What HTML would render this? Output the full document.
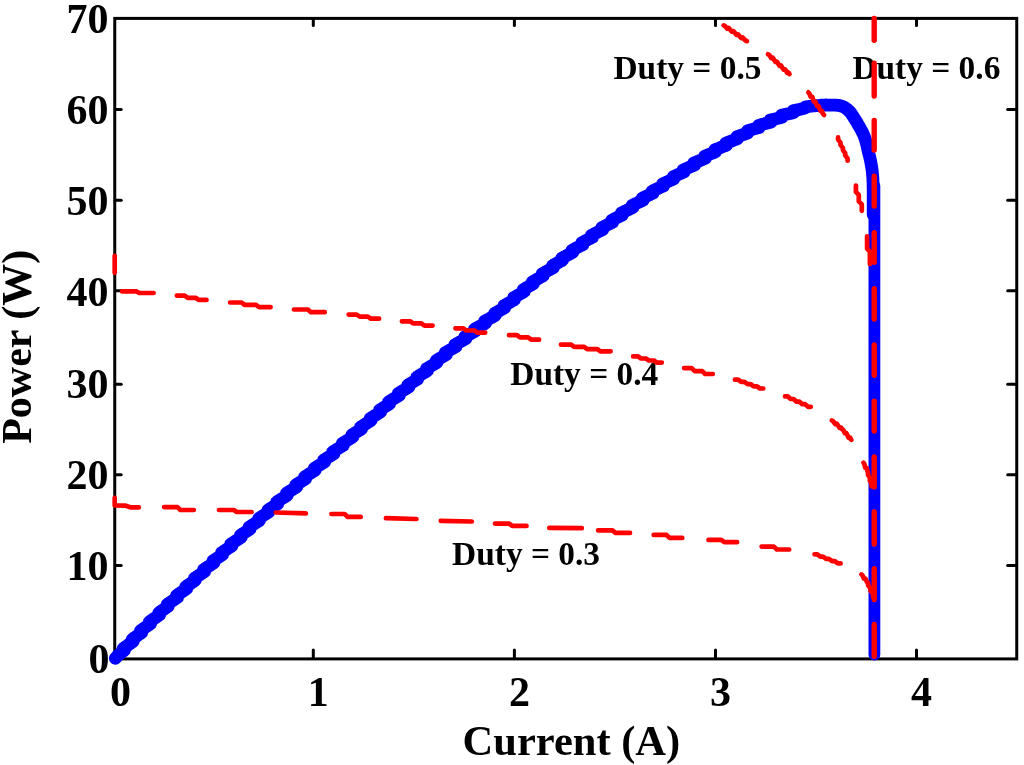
<!DOCTYPE html>
<html lang="en"><head><meta charset="utf-8"><title>Power vs Current for different duty cycles</title>
<style>html,body{margin:0;padding:0;background:#fff;overflow:hidden;}svg{display:block;}text{font-family:'Liberation Serif', serif;font-weight:bold;fill:#000;}.tk{font-size:42px;}.lab{font-size:42.5px;}.ann{font-size:33.4px;}.ax{stroke:#000;stroke-width:3.0;fill:none;}.t{stroke:#000;stroke-width:3;stroke-linecap:round;fill:none;}.r{stroke:#f00;stroke-width:4.7;stroke-linecap:round;stroke-linejoin:round;fill:none;}.b{stroke:#00f;stroke-width:12.8;stroke-linecap:round;stroke-linejoin:round;fill:none;}</style></head><body>
<svg width="1024" height="765" viewBox="0 0 1024 765">
<rect x="0" y="0" width="1024" height="765" fill="#fff"/>
<g class="t">
<line x1="313.3" y1="658.3" x2="313.3" y2="649.9"/>
<line x1="313.3" y1="19.0" x2="313.3" y2="25.5"/>
<line x1="514.4" y1="658.3" x2="514.4" y2="649.9"/>
<line x1="514.4" y1="19.0" x2="514.4" y2="25.5"/>
<line x1="715.5" y1="658.3" x2="715.5" y2="649.9"/>
<line x1="715.5" y1="19.0" x2="715.5" y2="25.5"/>
<line x1="916.5" y1="658.3" x2="916.5" y2="649.9"/>
<line x1="916.5" y1="19.0" x2="916.5" y2="25.5"/>
<line x1="115.3" y1="109.4" x2="121.2" y2="109.4"/>
<line x1="1016.1" y1="109.4" x2="1007.7" y2="109.4"/>
<line x1="115.3" y1="200.2" x2="121.2" y2="200.2"/>
<line x1="1016.1" y1="200.2" x2="1007.7" y2="200.2"/>
<line x1="115.3" y1="290.8" x2="121.2" y2="290.8"/>
<line x1="1016.1" y1="290.8" x2="1007.7" y2="290.8"/>
<line x1="115.3" y1="384.2" x2="121.2" y2="384.2"/>
<line x1="1016.1" y1="384.2" x2="1007.7" y2="384.2"/>
<line x1="115.3" y1="474.7" x2="121.2" y2="474.7"/>
<line x1="1016.1" y1="474.7" x2="1007.7" y2="474.7"/>
<line x1="115.3" y1="565.6" x2="121.2" y2="565.6"/>
<line x1="1016.1" y1="565.6" x2="1007.7" y2="565.6"/>
</g>
<rect class="ax" x="114.75" y="18.40" width="902.00" height="640.50"/>
<g class="tk">
<text x="108.4" y="32.6" text-anchor="end">70</text>
<text x="108.4" y="123.7" text-anchor="end">60</text>
<text x="108.4" y="214.8" text-anchor="end">50</text>
<text x="108.4" y="306.0" text-anchor="end">40</text>
<text x="108.4" y="397.5" text-anchor="end">30</text>
<text x="108.4" y="488.7" text-anchor="end">20</text>
<text x="108.4" y="580.3" text-anchor="end">10</text>
<text x="109.6" y="673.3" text-anchor="end">0</text>
<text x="120.4" y="706.3" text-anchor="middle">0</text>
<text x="318.3" y="706.3" text-anchor="middle">1</text>
<text x="519.4" y="706.3" text-anchor="middle">2</text>
<text x="720.5" y="706.3" text-anchor="middle">3</text>
<text x="921.5" y="706.3" text-anchor="middle">4</text>
</g>
<text class="lab" x="571.4" y="754.6" text-anchor="middle">Current (A)</text>
<text class="lab" style="font-size:42px" transform="translate(31.4,346.8) rotate(-90)" text-anchor="middle">Power (W)</text>
<g class="ann">
<text x="613.5" y="79.2">Duty = 0.5</text>
<text x="852.4" y="79.2">Duty = 0.6</text>
<text x="510.3" y="385">Duty = 0.4</text>
<text x="452.1" y="564.5">Duty = 0.3</text>
</g>
<polyline class="b" points="115.3,658.4 115.8,657.8 116.3,657.2 116.8,656.7 117.3,656.1 117.8,655.6 118.3,655.1 118.9,654.6 119.5,654.1 120.0,653.6 120.6,653.1 121.2,652.6 121.8,652.2 122.4,651.7 123.1,651.3 123.7,650.9 124.4,650.5 123.4,648.5 124.0,648.0 124.6,647.6 125.2,647.1 125.8,646.7 126.5,646.2 127.1,645.8 127.7,645.3 128.3,644.9 128.9,644.4 129.5,644.0 130.1,643.5 130.8,643.1 131.4,642.7 132.0,642.2 132.6,641.8 133.2,641.3 132.3,639.3 132.9,638.9 133.5,638.4 134.1,638.0 134.7,637.5 135.4,637.1 136.0,636.7 136.6,636.2 137.2,635.8 137.8,635.3 138.4,634.9 139.1,634.4 139.7,634.0 140.3,633.6 140.9,633.1 141.5,632.7 140.6,630.7 141.2,630.2 141.8,629.8 142.5,629.4 143.1,628.9 143.7,628.5 144.3,628.0 144.9,627.6 145.6,627.2 146.2,626.7 146.8,626.3 147.4,625.8 148.1,625.4 148.7,625.0 149.3,624.5 149.9,624.1 150.6,623.7 149.6,621.7 150.3,621.2 150.9,620.8 151.5,620.4 152.1,619.9 152.8,619.5 153.4,619.1 154.0,618.6 154.7,618.2 155.3,617.8 155.9,617.3 156.5,616.9 157.2,616.5 157.8,616.1 158.4,615.6 159.0,615.2 159.7,614.8 158.8,612.8 159.4,612.3 160.0,611.9 160.7,611.5 161.3,611.0 161.9,610.6 162.5,610.2 163.2,609.8 163.8,609.3 164.4,608.9 165.1,608.5 165.7,608.0 166.3,607.6 166.9,607.2 167.6,606.8 168.2,606.3 167.3,604.3 167.9,603.9 168.6,603.5 169.2,603.0 169.8,602.6 170.5,602.2 171.1,601.8 171.7,601.3 172.4,600.9 173.0,600.5 173.6,600.1 174.2,599.6 174.9,599.2 175.5,598.8 176.1,598.4 176.8,597.9 177.4,597.5 176.5,595.5 177.1,595.1 177.8,594.6 178.4,594.2 179.0,593.8 179.7,593.4 180.3,593.0 180.9,592.5 181.6,592.1 182.2,591.7 182.8,591.3 183.5,590.8 184.1,590.4 184.7,590.0 185.4,589.6 186.0,589.1 186.6,588.7 185.7,586.7 186.4,586.3 187.0,585.9 187.6,585.4 188.3,585.0 188.9,584.6 189.5,584.2 190.2,583.7 190.8,583.3 191.4,582.9 192.1,582.5 192.7,582.0 193.3,581.6 194.0,581.2 194.6,580.8 195.2,580.4 194.4,578.3 195.0,577.9 195.6,577.5 196.3,577.1 196.9,576.7 197.5,576.2 198.2,575.8 198.8,575.4 199.4,575.0 200.1,574.6 200.7,574.1 201.3,573.7 202.0,573.3 202.6,572.9 203.2,572.5 203.9,572.0 204.5,571.6 203.6,569.6 204.3,569.2 204.9,568.8 205.5,568.3 206.2,567.9 206.8,567.5 207.5,567.1 208.1,566.7 208.7,566.2 209.4,565.8 210.0,565.4 210.6,565.0 211.3,564.6 211.9,564.1 212.5,563.7 213.2,563.3 213.8,562.9 212.9,560.9 213.6,560.5 214.2,560.0 214.9,559.6 215.5,559.2 216.1,558.8 216.8,558.4 217.4,558.0 218.0,557.5 218.7,557.1 219.3,556.7 220.0,556.3 220.6,555.9 221.2,555.5 221.9,555.0 222.5,554.6 221.6,552.6 222.3,552.2 222.9,551.8 223.6,551.4 224.2,550.9 224.8,550.5 225.5,550.1 226.1,549.7 226.7,549.3 227.4,548.9 228.0,548.4 228.7,548.0 229.3,547.6 229.9,547.2 230.6,546.8 231.2,546.4 231.9,546.0 231.0,543.9 231.6,543.5 232.3,543.1 232.9,542.7 233.6,542.3 234.2,541.9 234.8,541.5 235.5,541.0 236.1,540.6 236.8,540.2 237.4,539.8 238.0,539.4 238.7,539.0 239.3,538.6 240.0,538.1 240.6,537.7 241.2,537.3 240.4,535.3 241.0,534.9 241.7,534.5 242.3,534.1 242.9,533.6 243.6,533.2 244.2,532.8 244.9,532.4 245.5,532.0 246.1,531.6 246.8,531.2 247.4,530.8 248.1,530.4 248.7,529.9 249.4,529.5 250.0,529.1 249.1,527.1 249.8,526.7 250.4,526.3 251.1,525.9 251.7,525.5 252.4,525.0 253.0,524.6 253.6,524.2 254.3,523.8 254.9,523.4 255.6,523.0 256.2,522.6 256.8,522.2 257.5,521.8 258.1,521.4 258.8,521.0 259.4,520.5 258.6,518.5 259.2,518.1 259.9,517.7 260.5,517.3 261.1,516.9 261.8,516.5 262.4,516.1 263.1,515.7 263.7,515.2 264.4,514.8 265.0,514.4 265.7,514.0 266.3,513.6 266.9,513.2 267.6,512.8 268.2,512.4 268.9,512.0 268.0,510.0 268.7,509.6 269.3,509.1 270.0,508.7 270.6,508.3 271.3,507.9 271.9,507.5 272.5,507.1 273.2,506.7 273.8,506.3 274.5,505.9 275.1,505.5 275.8,505.1 276.4,504.7 277.1,504.3 277.7,503.9 276.9,501.8 277.5,501.4 278.2,501.0 278.8,500.6 279.5,500.2 280.1,499.8 280.7,499.4 281.4,499.0 282.0,498.6 282.7,498.2 283.3,497.8 284.0,497.4 284.6,497.0 285.3,496.6 285.9,496.2 286.6,495.8 287.2,495.4 286.4,493.3 287.0,492.9 287.7,492.5 288.3,492.1 289.0,491.7 289.6,491.3 290.2,490.9 290.9,490.5 291.5,490.1 292.2,489.7 292.8,489.3 293.5,488.9 294.1,488.5 294.8,488.1 295.4,487.7 296.1,487.3 296.7,486.9 295.9,484.8 296.5,484.4 297.2,484.0 297.8,483.6 298.5,483.2 299.1,482.8 299.8,482.4 300.4,482.0 301.1,481.6 301.7,481.2 302.3,480.8 303.0,480.4 303.6,480.0 304.3,479.6 304.9,479.2 305.6,478.8 304.8,476.8 305.4,476.4 306.1,476.0 306.7,475.6 307.4,475.2 308.0,474.8 308.6,474.3 309.3,473.9 309.9,473.5 310.6,473.1 311.2,472.7 311.9,472.3 312.5,471.9 313.2,471.5 313.8,471.1 314.5,470.7 315.1,470.3 314.3,468.3 315.0,467.9 315.6,467.5 316.3,467.1 316.9,466.7 317.5,466.3 318.2,465.9 318.8,465.5 319.5,465.1 320.1,464.7 320.8,464.3 321.4,463.9 322.1,463.5 322.7,463.1 323.4,462.7 324.0,462.3 324.7,461.9 323.9,459.9 324.5,459.5 325.2,459.1 325.8,458.7 326.5,458.3 327.1,457.9 327.8,457.5 328.4,457.1 329.1,456.7 329.7,456.3 330.4,455.9 331.0,455.5 331.7,455.1 332.3,454.7 332.9,454.3 333.6,453.9 332.8,451.8 333.4,451.4 334.1,451.0 334.7,450.6 335.4,450.2 336.0,449.8 336.7,449.4 337.3,449.0 338.0,448.6 338.6,448.2 339.3,447.8 339.9,447.4 340.6,447.0 341.2,446.6 341.9,446.2 342.5,445.8 343.2,445.4 342.3,443.4 343.0,443.0 343.6,442.6 344.3,442.2 344.9,441.8 345.6,441.4 346.2,441.0 346.9,440.6 347.5,440.2 348.2,439.8 348.8,439.4 349.5,439.0 350.1,438.6 350.8,438.2 351.4,437.8 352.1,437.4 352.7,437.0 351.9,435.0 352.5,434.5 353.2,434.1 353.8,433.7 354.5,433.3 355.1,432.9 355.8,432.5 356.4,432.1 357.1,431.7 357.7,431.3 358.4,430.9 359.0,430.5 359.7,430.1 360.3,429.7 360.9,429.3 361.6,428.9 360.8,426.9 361.4,426.5 362.1,426.1 362.7,425.7 363.4,425.3 364.0,424.9 364.6,424.5 365.3,424.1 365.9,423.7 366.6,423.2 367.2,422.8 367.9,422.4 368.5,422.0 369.2,421.6 369.8,421.2 370.5,420.8 371.1,420.4 370.3,418.4 370.9,418.0 371.6,417.6 372.2,417.2 372.9,416.8 373.5,416.4 374.2,416.0 374.8,415.6 375.4,415.2 376.1,414.8 376.7,414.4 377.4,414.0 378.0,413.6 378.7,413.1 379.3,412.7 380.0,412.3 380.6,411.9 379.8,409.9 380.4,409.5 381.1,409.1 381.7,408.7 382.4,408.3 383.0,407.9 383.7,407.5 384.3,407.1 385.0,406.7 385.6,406.3 386.3,405.9 386.9,405.5 387.6,405.1 388.2,404.7 388.9,404.3 389.5,403.9 388.7,401.8 389.3,401.4 390.0,401.0 390.6,400.6 391.3,400.2 391.9,399.8 392.6,399.4 393.2,399.0 393.9,398.6 394.5,398.2 395.2,397.8 395.8,397.4 396.5,397.1 397.1,396.7 397.8,396.3 398.4,395.9 399.1,395.5 398.3,393.4 398.9,393.0 399.6,392.6 400.2,392.2 400.9,391.8 401.5,391.4 402.2,391.0 402.8,390.6 403.5,390.2 404.1,389.9 404.8,389.5 405.4,389.1 406.1,388.7 406.7,388.3 407.4,387.9 408.0,387.5 408.7,387.1 407.9,385.0 408.5,384.6 409.2,384.2 409.8,383.9 410.5,383.5 411.1,383.1 411.8,382.7 412.4,382.3 413.1,381.9 413.7,381.5 414.4,381.1 415.0,380.7 415.7,380.3 416.4,379.9 417.0,379.5 417.7,379.1 416.9,377.1 417.5,376.7 418.2,376.3 418.8,375.9 419.5,375.5 420.1,375.1 420.8,374.7 421.4,374.3 422.1,373.9 422.7,373.5 423.4,373.1 424.0,372.8 424.7,372.4 425.3,372.0 426.0,371.6 426.7,371.2 427.3,370.8 426.5,368.7 427.2,368.4 427.8,368.0 428.5,367.6 429.1,367.2 429.8,366.8 430.4,366.4 431.1,366.0 431.8,365.6 432.4,365.2 433.1,364.8 433.7,364.5 434.4,364.1 435.0,363.7 435.7,363.3 436.3,362.9 437.0,362.5 436.2,360.5 436.9,360.1 437.5,359.7 438.2,359.3 438.9,358.9 439.5,358.5 440.2,358.2 440.8,357.8 441.5,357.4 442.1,357.0 442.8,356.6 443.5,356.2 444.1,355.9 444.8,355.5 445.4,355.1 446.1,354.7 445.3,352.6 446.0,352.3 446.7,351.9 447.3,351.5 448.0,351.1 448.7,350.8 449.3,350.4 450.0,350.0 450.6,349.6 451.3,349.2 452.0,348.9 452.6,348.5 453.3,348.1 454.0,347.7 454.6,347.4 455.3,347.0 455.9,346.6 455.2,344.6 455.9,344.2 456.6,343.8 457.2,343.4 457.9,343.1 458.5,342.7 459.2,342.3 459.9,342.0 460.5,341.6 461.2,341.2 461.9,340.9 462.6,340.5 463.2,340.1 463.9,339.8 464.6,339.4 465.2,339.0 465.9,338.7 465.2,336.6 465.9,336.2 466.5,335.9 467.2,335.5 467.9,335.1 468.5,334.8 469.2,334.4 469.9,334.1 470.6,333.7 471.2,333.3 471.9,333.0 472.6,332.6 473.2,332.3 473.9,331.9 474.6,331.5 475.3,331.2 474.6,329.1 475.2,328.7 475.9,328.4 476.6,328.0 477.2,327.6 477.9,327.3 478.6,326.9 479.3,326.6 479.9,326.2 480.6,325.9 481.3,325.5 481.9,325.1 482.6,324.8 483.3,324.4 484.0,324.1 484.6,323.7 485.3,323.3 484.6,321.2 485.3,320.9 485.9,320.5 486.6,320.2 487.3,319.8 488.0,319.4 488.6,319.1 489.3,318.7 490.0,318.3 490.6,318.0 491.3,317.6 492.0,317.3 492.6,316.9 493.3,316.5 494.0,316.2 494.7,315.8 495.3,315.4 494.6,313.3 495.3,313.0 495.9,312.6 496.6,312.2 497.3,311.9 497.9,311.5 498.6,311.1 499.3,310.8 499.9,310.4 500.6,310.0 501.3,309.7 501.9,309.3 502.6,308.9 503.3,308.5 503.9,308.2 504.6,307.8 503.9,305.7 504.5,305.3 505.2,305.0 505.8,304.6 506.5,304.2 507.2,303.8 507.8,303.5 508.5,303.1 509.2,302.7 509.8,302.3 510.5,302.0 511.1,301.6 511.8,301.2 512.5,300.8 513.1,300.4 513.8,300.1 514.4,299.7 513.7,297.6 514.4,297.2 515.0,296.9 515.7,296.5 516.3,296.1 517.0,295.7 517.7,295.3 518.3,295.0 519.0,294.6 519.6,294.2 520.3,293.8 520.9,293.4 521.6,293.1 522.3,292.7 522.9,292.3 523.6,291.9 524.2,291.5 523.5,289.5 524.2,289.1 524.8,288.7 525.5,288.3 526.1,287.9 526.8,287.6 527.4,287.2 528.1,286.8 528.8,286.4 529.4,286.0 530.1,285.7 530.7,285.3 531.4,284.9 532.1,284.5 532.7,284.1 533.4,283.8 532.6,281.7 533.3,281.3 534.0,280.9 534.6,280.6 535.3,280.2 536.0,279.8 536.6,279.4 537.3,279.1 537.9,278.7 538.6,278.3 539.3,277.9 539.9,277.5 540.6,277.2 541.2,276.8 541.9,276.4 542.6,276.1 543.2,275.7 542.5,273.6 543.2,273.2 543.8,272.9 544.5,272.5 545.2,272.1 545.8,271.7 546.5,271.4 547.2,271.0 547.8,270.6 548.5,270.3 549.2,269.9 549.8,269.5 550.5,269.2 551.2,268.8 551.8,268.4 552.5,268.1 553.2,267.7 552.5,265.6 553.1,265.3 553.8,264.9 554.5,264.5 555.2,264.2 555.8,263.8 556.5,263.5 557.2,263.1 557.8,262.7 558.5,262.4 559.2,262.0 559.8,261.6 560.5,261.3 561.2,260.9 561.9,260.6 562.5,260.2 561.8,258.1 562.5,257.8 563.2,257.4 563.9,257.0 564.5,256.7 565.2,256.3 565.9,256.0 566.6,255.6 567.2,255.3 567.9,254.9 568.6,254.5 569.2,254.2 569.9,253.8 570.6,253.5 571.3,253.1 571.9,252.8 572.6,252.4 571.9,250.3 572.6,250.0 573.3,249.6 574.0,249.3 574.6,248.9 575.3,248.5 576.0,248.2 576.7,247.8 577.3,247.5 578.0,247.1 578.7,246.8 579.4,246.4 580.0,246.1 580.7,245.7 581.4,245.4 582.1,245.0 582.7,244.7 582.1,242.6 582.8,242.2 583.4,241.9 584.1,241.5 584.8,241.2 585.5,240.8 586.1,240.5 586.8,240.1 587.5,239.8 588.2,239.4 588.8,239.1 589.5,238.7 590.2,238.4 590.9,238.0 591.6,237.7 592.2,237.4 591.6,235.3 592.3,234.9 592.9,234.6 593.6,234.2 594.3,233.9 595.0,233.5 595.7,233.2 596.3,232.8 597.0,232.5 597.7,232.1 598.4,231.8 599.1,231.4 599.7,231.1 600.4,230.8 601.1,230.4 601.8,230.1 602.5,229.7 601.8,227.6 602.5,227.3 603.2,226.9 603.9,226.6 604.5,226.3 605.2,225.9 605.9,225.6 606.6,225.2 607.3,224.9 607.9,224.5 608.6,224.2 609.3,223.9 610.0,223.5 610.7,223.2 611.3,222.8 612.0,222.5 612.7,222.2 612.1,220.1 612.8,219.7 613.4,219.4 614.1,219.0 614.8,218.7 615.5,218.4 616.2,218.0 616.9,217.7 617.5,217.3 618.2,217.0 618.9,216.7 619.6,216.3 620.3,216.0 621.0,215.7 621.6,215.3 622.3,215.0 621.7,212.9 622.4,212.5 623.1,212.2 623.8,211.9 624.4,211.5 625.1,211.2 625.8,210.9 626.5,210.5 627.2,210.2 627.9,209.9 628.6,209.5 629.2,209.2 629.9,208.9 630.6,208.5 631.3,208.2 632.0,207.9 632.7,207.5 632.1,205.4 632.8,205.1 633.4,204.8 634.1,204.4 634.8,204.1 635.5,203.8 636.2,203.4 636.9,203.1 637.6,202.8 638.2,202.5 638.9,202.1 639.6,201.8 640.3,201.5 641.0,201.2 641.7,200.8 642.4,200.5 643.1,200.2 642.5,198.1 643.2,197.7 643.9,197.4 644.5,197.1 645.2,196.8 645.9,196.4 646.6,196.1 647.3,195.8 648.0,195.5 648.7,195.1 649.4,194.8 650.1,194.5 650.7,194.2 651.4,193.9 652.1,193.5 652.8,193.2 652.3,191.1 652.9,190.8 653.6,190.4 654.3,190.1 655.0,189.8 655.7,189.5 656.4,189.2 657.1,188.8 657.8,188.5 658.5,188.2 659.2,187.9 659.9,187.6 660.5,187.3 661.2,186.9 661.9,186.6 662.6,186.3 663.3,186.0 662.8,183.9 663.5,183.5 664.1,183.2 664.8,182.9 665.5,182.6 666.2,182.3 666.9,182.0 667.6,181.6 668.3,181.3 669.0,181.0 669.7,180.7 670.4,180.4 671.1,180.1 671.8,179.8 672.5,179.5 673.2,179.1 673.9,178.8 673.3,176.7 674.0,176.4 674.7,176.1 675.4,175.8 676.1,175.5 676.8,175.1 677.5,174.8 678.2,174.5 678.9,174.2 679.6,173.9 680.3,173.6 681.0,173.3 681.7,173.0 682.4,172.7 683.1,172.4 683.8,172.1 683.3,169.9 684.0,169.6 684.7,169.3 685.4,169.0 686.1,168.7 686.8,168.4 687.5,168.1 688.1,167.8 688.8,167.5 689.5,167.2 690.2,166.9 690.9,166.6 691.7,166.3 692.4,166.0 693.1,165.7 693.8,165.4 694.5,165.1 694.0,163.0 694.7,162.7 695.4,162.4 696.1,162.1 696.8,161.8 697.5,161.5 698.2,161.2 698.9,161.0 699.6,160.7 700.3,160.4 701.0,160.1 701.7,159.8 702.4,159.5 703.1,159.2 703.8,158.9 704.5,158.6 705.2,158.3 704.8,156.2 705.5,155.9 706.2,155.6 706.9,155.3 707.6,155.0 708.3,154.8 709.0,154.5 709.7,154.2 710.4,153.9 711.1,153.6 711.8,153.3 712.5,153.0 713.2,152.8 713.9,152.5 714.6,152.2 715.3,151.9 714.9,149.7 715.6,149.5 716.3,149.2 717.0,148.9 717.7,148.6 718.4,148.3 719.1,148.1 719.8,147.8 720.6,147.5 721.3,147.2 722.0,146.9 722.7,146.7 723.4,146.4 724.1,146.1 724.8,145.8 725.5,145.6 726.2,145.3 725.8,143.1 726.5,142.9 727.2,142.6 727.9,142.3 728.7,142.1 729.4,141.8 730.1,141.5 730.8,141.3 731.5,141.0 732.2,140.7 732.9,140.5 733.7,140.2 734.4,139.9 735.1,139.7 735.8,139.4 736.5,139.2 737.2,138.9 736.9,136.7 737.6,136.5 738.3,136.2 739.0,136.0 739.7,135.7 740.5,135.5 741.2,135.2 741.9,135.0 742.6,134.8 743.4,134.5 744.1,134.3 744.8,134.0 745.5,133.8 746.2,133.6 747.0,133.3 747.7,133.1 747.4,130.9 748.1,130.7 748.9,130.5 749.6,130.2 750.3,130.0 751.1,129.8 751.8,129.6 752.5,129.3 753.2,129.1 754.0,128.9 754.7,128.7 755.4,128.5 756.2,128.3 756.9,128.1 757.6,127.9 758.4,127.7 759.1,127.5 758.9,125.3 759.6,125.1 760.4,124.9 761.1,124.7 761.8,124.5 762.6,124.3 763.3,124.1 764.0,123.9 764.8,123.7 765.5,123.5 766.3,123.3 767.0,123.1 767.7,123.0 768.5,122.8 769.2,122.6 769.9,122.4 770.7,122.2 770.5,120.0 771.3,119.8 772.0,119.7 772.8,119.5 773.5,119.3 774.2,119.1 775.0,119.0 775.7,118.8 776.5,118.6 777.2,118.4 777.9,118.3 778.7,118.1 779.4,117.9 780.2,117.8 780.9,117.6 781.7,117.4 781.6,115.2 782.3,115.1 783.1,114.9 783.8,114.7 784.5,114.6 785.3,114.4 786.0,114.3 786.8,114.1 787.5,113.9 788.3,113.8 789.0,113.6 789.8,113.5 790.5,113.3 791.2,113.2 792.0,113.0 792.7,112.8 793.4,112.6 793.5,110.7 794.2,110.5 795.0,110.4 795.7,110.2 796.5,110.1 797.2,109.9 798.0,109.8 798.7,109.6 799.4,109.4 800.2,109.2 800.9,109.0 801.6,108.9 802.4,108.7 803.1,108.5 803.8,108.3 804.5,108.1 805.2,107.9 805.7,106.9 806.5,106.8 807.2,106.7 808.0,106.6 808.7,106.5 809.5,106.4 810.2,106.2 811.0,106.2 811.7,106.1 812.5,106.0 813.2,105.9 813.9,105.8 814.7,105.8 815.4,105.7 816.2,105.7 816.9,105.6 817.7,105.6 818.4,105.6 819.2,105.5 819.9,105.4 820.7,105.3 821.4,105.2 822.2,105.2 822.9,105.1 823.7,105.1 824.4,105.1 825.2,105.0 825.9,105.0 826.7,105.0 827.4,105.1 828.2,105.1 828.9,105.1 829.7,105.1 830.4,105.2 831.2,105.2 831.9,105.2 832.7,105.2 833.4,105.2 834.2,105.2 834.9,105.2 835.7,105.2 836.4,105.2 837.2,105.3 837.9,105.3 838.7,105.4 839.4,105.6 840.1,105.7 840.8,105.9 841.6,106.2 842.3,106.4 843.0,106.7 843.7,107.0 844.3,107.3 845.0,107.7 845.6,108.1 846.2,108.5 846.8,109.0 847.4,109.5 848.0,110.0 848.5,110.5 849.0,111.0 849.6,111.5 850.1,112.1 850.6,112.6 851.0,113.2 851.5,113.8 851.9,114.5 852.3,115.1 852.7,115.7 853.1,116.4 853.5,117.0 853.9,117.6 854.3,118.3 854.7,118.9 855.1,119.5 855.5,120.2 855.9,120.8 856.3,121.4 856.7,122.1 857.1,122.7 857.4,123.4 857.8,124.0 858.2,124.7 858.6,125.3 859.0,126.0 859.3,126.6 859.7,127.3 860.1,127.9 860.5,128.6 860.8,129.2 861.2,129.9 861.5,130.5 861.9,131.2 862.2,131.9 862.6,132.5 862.9,133.2 863.2,133.9 863.5,134.6 863.8,135.3 864.1,136.0 864.4,136.7 864.6,137.4 864.9,138.1 865.1,138.8 865.3,139.5 865.6,140.2 865.8,140.9 866.0,141.7 866.2,142.4 866.4,143.1 866.5,143.8 866.7,144.6 866.9,145.3 867.1,146.0 867.2,146.8 867.4,147.5 867.5,148.2 867.7,148.9 867.9,149.7 868.0,150.4 868.2,151.1 868.4,151.9 868.5,152.6 868.7,153.3 868.9,154.1 869.1,154.8 869.3,155.5 869.5,156.2 869.7,157.0 869.9,157.7 870.0,158.4 870.2,159.1 870.4,159.9 870.5,160.6 870.7,161.3 870.8,162.1 870.9,162.8 871.1,163.6 871.2,164.3 871.3,165.0 871.4,165.8 871.6,166.5 871.7,167.3 871.8,168.0 871.9,168.7 872.0,169.5 872.1,170.2 872.2,171.0 872.3,171.7 872.4,172.5 872.4,173.2 872.5,174.0 872.6,174.7 872.6,175.5 872.7,176.2 872.8,176.9 872.8,177.7 872.9,178.4 872.9,179.2 872.9,179.9 873.0,180.7 873.0,181.4 873.0,182.2 873.1,182.9 873.1,183.7 873.1,184.4 873.1,185.2 873.1,185.9 873.1,186.7 873.2,187.4 873.2,188.2 873.2,188.9 873.2,189.7 873.2,190.4 873.2,191.2 873.2,191.9 873.2,192.7 873.2,193.4 873.2,194.2 873.2,194.9 873.2,195.7 873.2,196.4 873.2,197.2 873.2,197.9 873.2,198.7 873.2,199.4 873.2,200.2 873.2,200.9 873.2,201.7 873.2,202.4 873.2,203.2 873.2,203.9 873.2,204.7 873.2,205.4 873.2,206.2 873.2,206.9 873.2,207.7 873.2,208.4 873.2,209.2 873.2,209.9 873.2,210.7 873.2,211.4 873.2,212.2 873.2,212.9 873.2,213.7 873.2,214.4"/>
<path class="b" style="stroke-width:11.8" d="M874.4,186 L874.4,654.6"/>
<g class="r">
<polyline points="114.7,497.9 114.7,505.4 125.0,505.6 131.0,507.4 138.8,507.4"/>
<polyline points="164.1,507.1 177.4,507.1 180.4,510.0 193.8,510.0"/>
<polyline points="219.0,510.0 233.8,510.0 236.8,512.0 251.6,512.0"/>
<polyline points="275.8,512.5 305.9,513.4"/>
<polyline points="331.4,514.0 344.6,514.0 347.6,516.9 360.7,516.9"/>
<polyline points="385.9,518.2 416.5,519.0"/>
<polyline points="440.7,520.8 471.9,521.5"/>
<polyline points="495.0,523.6 509.2,523.6 512.2,525.9 526.5,525.9"/>
<polyline points="549.3,527.9 581.8,528.2"/>
<polyline points="598.1,530.4 612.5,530.4 615.5,532.9 630.0,532.9"/>
<polyline points="653.7,534.9 666.5,534.9 669.5,537.9 682.3,537.9"/>
<polyline points="708.5,539.9 721.3,539.9 724.3,542.2 737.1,542.2"/>
<polyline points="761.6,546.6 773.9,546.6 776.9,549.5 789.2,549.5"/>
<polyline points="814.5,554.3 817.3,554.3 820.3,556.6 823.1,556.6 826.1,558.9 829.0,558.9 832.0,561.1 834.8,561.1 837.8,563.4 840.6,563.4"/>
<polyline points="861.4,574.4 862.1,574.9 862.6,575.5 863.0,576.3 863.3,577.1 863.6,577.9 864.0,578.7 865.5,578.6 865.8,579.4 866.1,580.2 866.5,581.0 866.8,581.8 867.3,582.5 868.0,583.0 868.0,585.3 870.5,588.3 870.5,590.7 873.0,593.7 873.0,596.0 873.5,597.7"/>
<polyline points="114.7,255.8 114.7,272.8"/>
<polyline points="121.9,291.3 136.2,291.3 139.2,293.0 153.6,293.0"/>
<polyline points="176.8,295.6 184.7,295.6 187.7,297.8 195.6,297.8 198.6,299.9 206.5,299.9"/>
<polyline points="230.1,302.5 241.6,302.5 244.6,304.9 256.1,304.9 259.1,307.2 270.6,307.2"/>
<polyline points="293.9,309.5 307.9,309.5 310.9,312.2 324.8,312.2"/>
<polyline points="348.6,314.6 356.8,314.6 359.8,316.6 367.9,316.6 370.9,318.7 379.1,318.7"/>
<polyline points="401.9,321.3 410.1,321.3 413.1,323.4 421.4,323.4 424.4,325.6 432.6,325.6"/>
<polyline points="455.4,328.3 463.3,328.3 466.3,330.5 474.3,330.5 477.3,332.7 485.2,332.7"/>
<polyline points="509.0,335.2 517.0,335.2 520.0,337.4 528.1,337.4 531.1,339.7 539.1,339.7"/>
<polyline points="560.9,344.6 571.1,344.6 574.1,346.8 584.2,346.8 587.2,349.1 597.4,349.1 600.4,351.3 610.6,351.3"/>
<polyline points="633.1,356.4 638.0,356.4 641.0,358.5 645.9,358.5 648.9,360.5 653.9,360.5 656.9,362.6 661.8,362.6"/>
<polyline points="684.1,368.1 691.7,368.1 694.7,371.1 702.2,371.1 705.2,374.0 712.8,374.0"/>
<polyline points="734.9,379.7 738.2,379.7 741.2,381.9 744.5,381.9 747.5,384.1 750.7,384.1 753.7,386.3 757.0,386.3 760.0,388.5 763.3,388.5"/>
<polyline points="785.0,396.4 787.7,396.4 790.7,399.0 793.5,399.0 796.5,401.6 799.3,401.6 802.3,404.2 805.1,404.2 808.1,406.8 810.8,406.8"/>
<polyline points="831.8,420.5 832.6,420.9 833.2,421.4 833.8,422.0 834.3,422.7 834.7,423.5 835.2,424.2 836.7,423.7 837.2,424.4 837.7,425.1 838.2,425.8 838.7,426.5 839.2,427.2 839.6,427.9 841.0,427.6 841.5,428.4 842.0,429.0 842.7,429.5 843.3,430.1 843.7,430.9 844.1,431.7 844.5,432.4 844.8,433.2 846.3,433.0 846.7,433.8 847.1,434.6 847.5,435.4 847.8,436.2 848.2,437.0 848.6,437.8 850.1,437.6 850.5,438.4 850.8,439.2 851.4,439.8"/>
<polyline points="863.4,462.7 864.0,463.4 864.4,464.2 864.6,465.0 864.8,465.9 865.0,466.8 865.1,467.6 866.6,467.9 866.8,468.7 867.0,469.6 867.2,470.5 867.5,471.3 868.0,472.0 868.0,474.8 869.8,477.8 869.8,480.5 871.6,483.5 871.6,486.3"/>
<polyline points="723.6,25.4 724.3,25.7 725.0,26.1 725.6,26.7 726.2,27.3 726.7,27.9 727.3,28.6 728.6,28.0 729.2,28.6 729.7,29.2 730.3,29.8 730.8,30.5 731.4,31.1 731.9,31.7 733.3,31.1 733.9,31.8 734.4,32.4 735.0,33.0 735.5,33.7 736.1,34.3 736.6,34.9 738.0,34.3 738.5,34.9 739.1,35.6 739.6,36.2 740.2,36.8 740.7,37.5 741.3,38.1 742.7,37.5 743.2,38.1 743.8,38.7 744.3,39.4 744.9,40.0 745.5,40.5 746.2,40.9 747.0,41.1"/>
<polyline points="768.0,54.3 768.8,54.7 769.4,55.2 769.9,55.9 770.3,56.6 770.8,57.3 771.2,58.0 772.7,57.6 773.1,58.3 773.6,59.1 774.0,59.8 774.5,60.5 774.9,61.2 775.3,61.9 776.8,61.5 777.3,62.2 777.7,62.9 778.1,63.7 778.6,64.4 779.0,65.1 779.5,65.8 780.9,65.4 781.4,66.1 781.8,66.8 782.3,67.5 782.7,68.3 783.2,69.0 783.6,69.7 785.1,69.3 785.5,70.0 786.0,70.7 786.4,71.4 786.9,72.1 787.3,72.9 788.7,72.6 789.0,73.4 789.5,74.1"/>
<polyline points="808.3,92.3 808.9,92.9 809.4,93.5 809.7,94.3 810.0,95.1 810.3,95.9 810.6,96.7 812.1,96.6 812.4,97.4 812.7,98.2 813.0,99.0 813.2,99.8 813.5,100.6 813.8,101.4 815.3,101.3 815.6,102.1 815.9,102.9 816.2,103.7 816.5,104.5 816.8,105.3 817.0,106.0 818.6,106.0 818.8,106.8 819.1,107.6 819.4,108.4 819.7,109.2 820.0,109.9 820.3,110.7 821.8,110.7 822.1,111.5 822.4,112.3 822.6,113.1 823.0,113.8 823.5,114.4 824.1,115.0"/>
<polyline points="838.1,137.3 838.1,139.6 840.5,142.6 840.5,144.9 842.9,147.9 842.9,150.1 845.2,153.1 845.2,155.4 847.6,158.4 847.6,160.7"/>
<polyline points="855.9,185.5 855.9,191.9 858.8,194.9 858.8,201.4 861.8,204.4 861.8,210.8"/>
<polyline points="867.1,236.3 867.1,248.7 869.9,251.7 869.9,264.1"/>
</g>
<g class="r" style="stroke-width:5.4">
<line x1="874.2" y1="18.4" x2="874.2" y2="40.3"/>
<line x1="874.2" y1="63.3" x2="874.2" y2="96.1"/>
<line x1="874.2" y1="120.5" x2="874.2" y2="150.1"/>
<line x1="874.2" y1="176.2" x2="874.2" y2="206.0"/>
<line x1="874.2" y1="232.7" x2="874.2" y2="262.3"/>
<line x1="874.2" y1="288.7" x2="874.2" y2="319.1"/>
<line x1="874.2" y1="345.0" x2="874.2" y2="375.3"/>
<line x1="874.2" y1="401.1" x2="874.2" y2="431.0"/>
<line x1="874.2" y1="457.0" x2="874.2" y2="486.9"/>
<line x1="874.2" y1="512.0" x2="874.2" y2="544.0"/>
<line x1="874.2" y1="568.7" x2="874.2" y2="599.5"/>
<line x1="874.2" y1="624.5" x2="874.2" y2="656.2"/>
</g>
</svg></body></html>
